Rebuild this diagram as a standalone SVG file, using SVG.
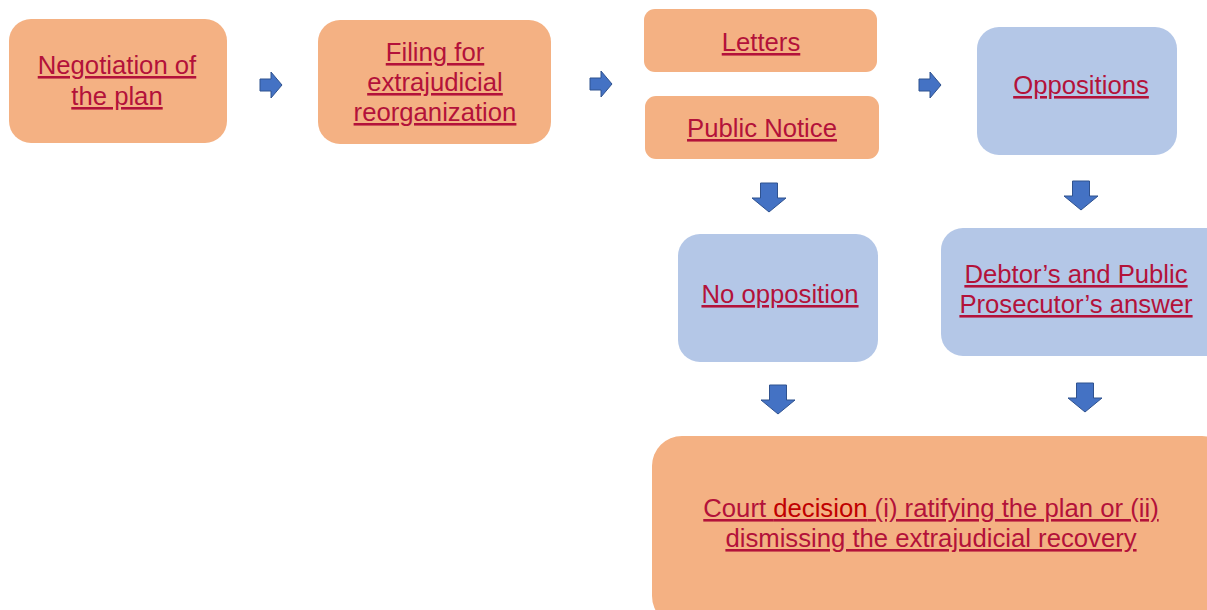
<svg xmlns="http://www.w3.org/2000/svg" width="1207" height="610" viewBox="0 0 1207 610">
<style>
.o{fill:#f4b183}
.b{fill:#b4c7e7}
.t{font-family:"Liberation Sans",Arial,sans-serif;font-size:25.7px;fill:#b3123a;text-anchor:middle;text-decoration:underline}
.a{fill:#4472c4;stroke:#2f528f;stroke-width:1}
</style>
<defs>
<path id="ar" d="M0,-6 H11 V-13 L22,0 L11,13 V6 H0 Z"/>
<path id="ad" d="M-8.5,0 H8.5 V15 H17 L0,29 L-17,15 H-8.5 Z"/>
</defs>
<rect width="1207" height="610" fill="#ffffff"/>
<g id="n1"><rect class="o" x="9" y="19" width="218" height="124" rx="22"/>
<text class="t" x="117" y="74">Negotiation of</text><text class="t" x="117" y="105">the plan</text></g>
<g id="n2"><rect class="o" x="318" y="20" width="233" height="124" rx="22"/>
<text class="t" x="435" y="61">Filing for</text><text class="t" x="435" y="91">extrajudicial</text><text class="t" x="435" y="121">reorganization</text></g>
<g id="n3"><rect class="o" x="644" y="9" width="233" height="63" rx="11"/>
<text class="t" x="761" y="51">Letters</text></g>
<g id="n4"><rect class="o" x="645" y="96" width="234" height="63" rx="11"/>
<text class="t" x="762" y="137">Public Notice</text></g>
<g id="n5"><rect class="b" x="977" y="27" width="200" height="128" rx="22"/>
<text class="t" x="1081" y="94">Oppositions</text></g>
<g id="n6"><rect class="b" x="678" y="234" width="200" height="128" rx="22"/>
<text class="t" x="780" y="303">No opposition</text></g>
<g id="n7"><rect class="b" x="941" y="228" width="290" height="128" rx="22"/>
<text class="t" x="1076" y="283">Debtor’s and Public</text><text class="t" x="1076" y="313">Prosecutor’s answer</text></g>
<g id="n8"><rect class="o" x="652" y="436" width="580" height="190" rx="30"/>
<text class="t" x="931" y="517">Court <tspan fill="#c00000">decision</tspan> (i) ratifying the plan or (ii)</text><text class="t" x="931" y="547">dismissing the extrajudicial recovery</text></g>
<g id="connectors">
<use href="#ar" class="a" transform="translate(260,85)"/>
<use href="#ar" class="a" transform="translate(590,84)"/>
<use href="#ar" class="a" transform="translate(919,85)"/>
<use href="#ad" class="a" transform="translate(769,183)"/>
<use href="#ad" class="a" transform="translate(1081,181)"/>
<use href="#ad" class="a" transform="translate(778,385)"/>
<use href="#ad" class="a" transform="translate(1085,383)"/>
</g>
</svg>
